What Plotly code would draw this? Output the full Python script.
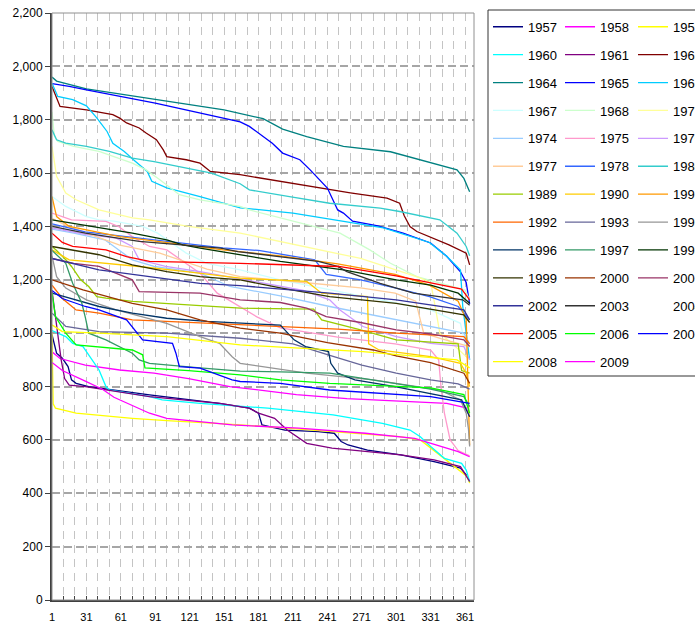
import plotly.graph_objects as go

# ---- flow-duration data: day rank (1..365) and daily value, per year ----
years = ["1957", "1958", "1959", "1960", "1961", "1963", "1964", "1965", "1966",
         "1967", "1968", "1971", "1974", "1975", "1976", "1977", "1978", "1980",
         "1989", "1990", "1991", "1992", "1993", "1995", "1996", "1997", "1998",
         "1999", "2000", "2001", "2002", "2003", "2004", "2005", "2006", "2007",
         "2008", "2009"]

colors = ["#000080", "#FF00FF", "#FFFF00", "#00FFFF", "#800080", "#800000", "#008080",
          "#0000FF", "#00CCFF", "#CCFFFF", "#CCFFCC", "#FFFF99", "#99CCFF", "#FF99CC",
          "#CC99FF", "#FFCC99", "#3366FF", "#33CCCC", "#99CC00", "#FFCC00", "#FF9900",
          "#FF6600", "#666699", "#969696", "#003366", "#339966", "#003300", "#333300",
          "#993300", "#993366", "#333399", "#333333", "#FFFFFF", "#FF0000", "#00FF00",
          "#0000FF", "#FFFF00", "#FF00FF"]

d1957 = [1, 5, 10, 15, 18, 22, 33, 86, 147, 173, 181, 184, 204, 233, 247, 253, 259, 276, 305, 334, 357, 362, 365]
v1957 = [994, 925, 906, 875, 825, 812, 800, 769, 737, 719, 700, 656, 637, 631, 625, 594, 581, 562, 544, 519, 494, 469, 444]

d1958 = [1, 8, 30, 60, 90, 120, 156, 214, 258, 302, 345, 362, 365]
v1958 = [930, 905, 880, 862, 850, 830, 800, 770, 755, 745, 737, 720, 687]

d1959 = [1, 2, 4, 22, 71, 101, 144, 188, 245, 304, 322, 333, 348, 363, 365]
v1959 = [1000, 735, 719, 700, 681, 672, 662, 650, 631, 612, 600, 562, 513, 462, 438]

d1960 = [1, 13, 19, 28, 34, 42, 48, 51, 86, 97, 130, 189, 246, 289, 313, 322, 331, 343, 358, 362, 365]
v1960 = [1010, 987, 962, 950, 912, 862, 800, 787, 762, 750, 737, 719, 694, 662, 637, 612, 575, 531, 512, 487, 444]

d1961 = [1, 3, 6, 9, 12, 16, 30, 86, 147, 173, 181, 195, 206, 214, 223, 245, 275, 305, 334, 357, 365]
v1961 = [1160, 1100, 1000, 900, 830, 805, 800, 762, 737, 719, 700, 681, 637, 612, 587, 569, 556, 544, 525, 500, 444]

d1963 = [1, 5, 8, 31, 40, 54, 60, 66, 77, 83, 92, 98, 101, 118, 130, 139, 165, 200, 243, 261,
         293, 304, 308, 313, 319, 333, 347, 362, 365]
v1963 = [1925, 1882, 1850, 1837, 1830, 1819, 1806, 1788, 1769, 1750, 1725, 1687, 1662, 1650, 1637,
         1606, 1594, 1569, 1537, 1526, 1506, 1487, 1440, 1400, 1381, 1357, 1331, 1300, 1256]

d1964 = [1, 5, 31, 61, 91, 121, 151, 185, 202, 223, 255, 296, 319, 342, 354, 360, 365]
v1964 = [1960, 1945, 1916, 1896, 1875, 1856, 1837, 1804, 1765, 1737, 1700, 1680, 1654, 1628, 1612, 1580, 1530]

d1965 = [1, 16, 31, 91, 165, 173, 193, 202, 217, 226, 241, 250, 255, 263, 285, 307, 331, 345, 357, 362, 365]
v1965 = [1935, 1925, 1912, 1862, 1792, 1775, 1712, 1675, 1650, 1612, 1544, 1462, 1450, 1420, 1402,
         1375, 1338, 1288, 1230, 1190, 1110]

d1966 = [1, 6, 19, 31, 40, 49, 54, 64, 72, 84, 88, 101, 130, 165, 211, 255, 290, 330, 345, 357, 359, 362, 365]
v1966 = [1937, 1887, 1875, 1852, 1807, 1756, 1712, 1681, 1650, 1606, 1569, 1545, 1512, 1470, 1450,
         1419, 1395, 1340, 1288, 1237, 1100, 1000, 900]

d1967 = [1, 13, 31, 42, 55, 80, 93, 118, 136, 165, 200, 243, 287, 331, 357, 362, 365]
v1967 = [1512, 1475, 1437, 1425, 1420, 1400, 1375, 1300, 1262, 1237, 1200, 1162, 1125, 1087, 1037, 937, 880]

d1968 = [1, 3, 6, 20, 42, 71, 83, 95, 112, 130, 165, 173, 252, 278, 296, 319, 345, 361, 365]
v1968 = [1830, 1740, 1719, 1700, 1681, 1637, 1612, 1575, 1519, 1500, 1475, 1462, 1375, 1312, 1262,
         1212, 1181, 1162, 1125]

d1971 = [1, 5, 13, 22, 42, 71, 86, 120, 165, 215, 270, 320, 331, 335, 339, 350, 365]
v1971 = [1700, 1588, 1525, 1500, 1462, 1432, 1425, 1400, 1375, 1330, 1280, 1210, 1190, 1100, 1000, 960, 900]

d1974 = [1, 20, 47, 59, 71, 90, 130, 156, 200, 243, 287, 331, 360, 365]
v1974 = [1390, 1375, 1350, 1312, 1275, 1250, 1225, 1175, 1140, 1100, 1062, 1025, 1000, 960]

d1975 = [1, 18, 48, 59, 71, 86, 101, 130, 145, 165, 180, 200, 250, 300, 331, 338, 340, 343, 348, 355, 365]
v1975 = [1450, 1425, 1419, 1400, 1362, 1325, 1312, 1225, 1150, 1100, 1060, 1020, 985, 960, 937,
         900, 800, 700, 600, 560, 540]

d1976 = [1, 30, 57, 71, 77, 100, 130, 170, 220, 243, 252, 272, 301, 331, 360, 365]
v1976 = [1395, 1370, 1356, 1325, 1275, 1250, 1231, 1200, 1160, 1125, 1087, 1025, 987, 962, 950, 900]

d1977 = [1, 15, 60, 95, 136, 165, 220, 270, 300, 318, 322, 325, 340, 365]
v1977 = [1430, 1400, 1330, 1300, 1240, 1212, 1190, 1170, 1150, 1120, 1050, 1000, 980, 950]

d1978 = [1, 30, 90, 150, 181, 211, 230, 240, 270, 300, 330, 355, 365]
v1978 = [1410, 1380, 1350, 1320, 1310, 1290, 1275, 1220, 1200, 1170, 1137, 1100, 1050]

d1980 = [1, 5, 13, 31, 51, 71, 90, 118, 140, 165, 173, 208, 243, 287, 304, 339, 354, 362, 365]
v1980 = [1762, 1725, 1712, 1700, 1681, 1656, 1643, 1619, 1600, 1560, 1537, 1512, 1487, 1469, 1456,
         1425, 1375, 1325, 1290]

d1989 = [1, 5, 13, 18, 26, 33, 40, 48, 71, 165, 229, 236, 270, 301, 355, 358, 365]
v1989 = [1325, 1310, 1275, 1250, 1200, 1175, 1137, 1131, 1119, 1094, 1090, 1050, 1012, 975, 960, 860, 850]

d1990 = [1, 16, 77, 120, 165, 223, 236, 276, 277, 286, 331, 357, 362, 365]
v1990 = [1312, 1275, 1250, 1230, 1206, 1194, 1150, 1137, 960, 937, 912, 887, 850, 800]

d1991 = [1, 5, 16, 40, 60, 100, 150, 200, 250, 300, 330, 355, 362, 365]
v1991 = [1512, 1437, 1400, 1380, 1362, 1340, 1312, 1290, 1260, 1220, 1180, 1120, 1050, 580]

d1992 = [1, 10, 22, 42, 71, 165, 250, 301, 360, 365]
v1992 = [1180, 1130, 1087, 1075, 1050, 1031, 1015, 1000, 987, 960]

d1993 = [1, 13, 42, 101, 165, 211, 241, 271, 301, 331, 355, 365]
v1993 = [1075, 1025, 1006, 1000, 981, 960, 920, 880, 850, 825, 810, 790]

d1995 = [1, 5, 13, 31, 57, 101, 130, 147, 158, 165, 223, 281, 339, 357, 362, 364, 365]
v1995 = [1290, 1212, 1169, 1125, 1087, 1037, 987, 962, 912, 887, 850, 825, 787, 750, 700, 640, 575]

d1996 = [1, 22, 42, 71, 101, 136, 165, 200, 212, 222, 242, 244, 250, 265, 300, 358, 365]
v1996 = [1150, 1125, 1100, 1075, 1056, 1044, 1037, 1030, 975, 950, 931, 887, 850, 825, 800, 750, 687]

d1997 = [1, 13, 19, 27, 30, 33, 48, 71, 77, 86, 130, 165, 200, 243, 331, 360, 365]
v1997 = [1310, 1262, 1187, 1112, 1060, 1000, 975, 925, 900, 887, 870, 858, 855, 850, 790, 762, 725]

d1998 = [1, 28, 71, 101, 115, 130, 165, 200, 255, 301, 331, 355, 365]
v1998 = [1425, 1406, 1375, 1350, 1331, 1319, 1294, 1269, 1237, 1200, 1180, 1150, 1112]

d1999 = [1, 42, 71, 101, 130, 165, 200, 243, 301, 331, 360, 365]
v1999 = [1325, 1294, 1256, 1231, 1212, 1200, 1170, 1137, 1112, 1090, 1069, 1040]

d2000 = [1, 28, 71, 101, 130, 165, 200, 241, 281, 301, 331, 360, 365]
v2000 = [1200, 1162, 1112, 1087, 1050, 1019, 1000, 965, 937, 915, 890, 850, 812]

d2001 = [1, 20, 42, 71, 77, 130, 165, 200, 223, 240, 270, 301, 331, 360, 365]
v2001 = [1280, 1262, 1250, 1200, 1156, 1150, 1125, 1115, 1094, 1062, 1040, 1012, 997, 975, 950]

d2002 = [1, 42, 86, 130, 165, 243, 301, 360, 365]
v2002 = [1280, 1237, 1212, 1187, 1178, 1150, 1125, 1087, 1050]

d2003 = [1, 30, 77, 148, 163, 198, 233, 250, 258, 287, 316, 359, 365]
v2003 = [1400, 1375, 1344, 1319, 1306, 1287, 1269, 1250, 1231, 1187, 1150, 1125, 1105]

# no readings for 2004: the series exists (legend entry) but has no values
d2004 = [1]
v2004 = [None]

d2005 = [1, 10, 19, 48, 66, 86, 165, 251, 301, 331, 358, 365]
v2005 = [1375, 1340, 1325, 1312, 1287, 1269, 1262, 1250, 1215, 1190, 1165, 1125]

d2006 = [1, 4, 13, 22, 71, 80, 82, 120, 165, 200, 243, 331, 360, 365]
v2006 = [1150, 1062, 1000, 956, 937, 919, 870, 860, 844, 825, 812, 795, 770, 700]

d2007 = [1, 10, 30, 42, 66, 75, 80, 106, 109, 112, 130, 158, 165, 200, 243, 331, 365]
v2007 = [1160, 1130, 1100, 1087, 1050, 1000, 975, 962, 925, 875, 869, 825, 819, 812, 787, 762, 737]

d2008 = [1, 10, 42, 101, 165, 215, 272, 322, 354, 365]
v2008 = [1031, 1006, 1000, 987, 956, 944, 931, 912, 900, 870]

d2009 = [1, 10, 30, 45, 55, 70, 86, 101, 130, 158, 216, 274, 317, 331, 355, 365]
v2009 = [890, 860, 820, 790, 760, 730, 700, 681, 669, 656, 644, 625, 606, 587, 556, 537]

series_days = [d1957, d1958, d1959, d1960, d1961, d1963, d1964, d1965, d1966, d1967, d1968,
               d1971, d1974, d1975, d1976, d1977, d1978, d1980, d1989, d1990, d1991, d1992,
               d1993, d1995, d1996, d1997, d1998, d1999, d2000, d2001, d2002, d2003, d2004,
               d2005, d2006, d2007, d2008, d2009]
series_vals = [v1957, v1958, v1959, v1960, v1961, v1963, v1964, v1965, v1966, v1967, v1968,
               v1971, v1974, v1975, v1976, v1977, v1978, v1980, v1989, v1990, v1991, v1992,
               v1993, v1995, v1996, v1997, v1998, v1999, v2000, v2001, v2002, v2003, v2004,
               v2005, v2006, v2007, v2008, v2009]

FONT = "Liberation Sans, Arial, sans-serif"
legend_ids = ["legend", "legend2", "legend3"]

fig = go.Figure()
for i, (yr, col, dd, vv) in enumerate(zip(years, colors, series_days, series_vals)):
    fig.add_trace(go.Scatter(
        x=dd, y=vv, mode="lines", name=yr,
        line=dict(color=col, width=1.3),
        legend=legend_ids[i % 3], legendgroup=yr,
        hoverinfo="skip",
    ))

# plot area: 52..474 px horizontally, 13..600 px vertically
L, R, T, B = 52, 474, 13, 600
W, H = 695, 628
pw, ph = R - L, B - T


def px_x(px):
    return (px - L) / pw


def px_y(py):
    return (B - py) / ph


legend_common = dict(
    font=dict(family=FONT, size=13, color="#000000"),
    bgcolor="rgba(0,0,0,0)", borderwidth=0,
    traceorder="grouped", tracegroupgap=8,
    xanchor="left", yanchor="top", y=px_y(11.8),
    maxheight=600,
    itemclick=False, itemdoubleclick=False,
)

fig.update_layout(
    width=W, height=H,
    margin=dict(l=L, r=W - R, t=T, b=H - B, autoexpand=False),
    paper_bgcolor="white", plot_bgcolor="white",
    font=dict(family=FONT, size=11, color="#000000"),
    showlegend=True,
    legend=dict(x=px_x(488), **legend_common),
    legend2=dict(x=px_x(560), **legend_common),
    legend3=dict(x=px_x(633), entrywidth=30, **legend_common),
    xaxis=dict(
        range=[1, 368.8], tick0=1, dtick=30,
        ticks="inside", ticklen=4, tickcolor="#404040", tickwidth=1,
        ticklabelstandoff=6,
        showgrid=True, gridcolor="#c4c4c4", gridwidth=1, griddash="8px,6px",
        minor=dict(tick0=1, dtick=10, ticks="inside", ticklen=4, tickcolor="#404040",
                   showgrid=True, gridcolor="#c4c4c4", gridwidth=1, griddash="8px,6px"),
        showline=True, linecolor="#404040", linewidth=2,
        zeroline=False, tickfont=dict(size=11, family=FONT, color="#000000"),
    ),
    yaxis=dict(
        range=[0, 2200], tick0=0, dtick=200, tickformat=",d",
        ticks="outside", ticklen=5, tickcolor="#404040", tickwidth=1,
        showgrid=True, gridcolor="#a6a6a6", gridwidth=1.5, griddash="8px,4px",
        showline=True, linecolor="#404040", linewidth=2,
        zeroline=False, tickfont=dict(size=12, family=FONT, color="#000000"),
    ),
    shapes=[
        # thin frame along the top and right of the plot area
        dict(type="rect", xref="paper", yref="paper", x0=0, x1=1, y0=0, y1=1,
             line=dict(color="#909090", width=1), layer="above"),
        # legend box
        dict(type="rect", xref="paper", yref="paper",
             x0=px_x(488), x1=px_x(720), y0=px_y(376), y1=px_y(10),
             line=dict(color="#333333", width=1), layer="above"),
    ],
)

fig.write_html("out.html")
